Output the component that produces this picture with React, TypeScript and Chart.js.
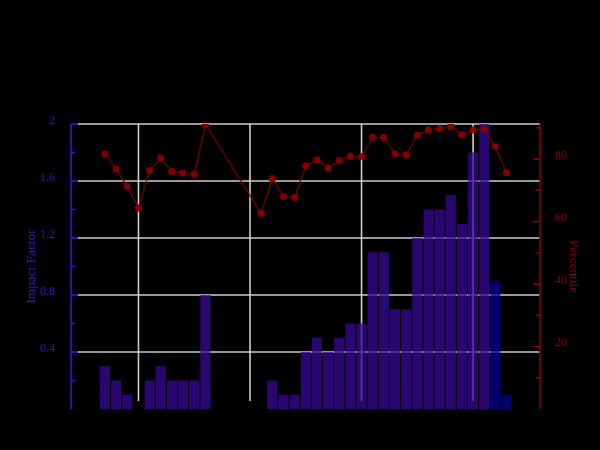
import React, { useEffect, useRef } from "react";
import { Chart, registerables } from "chart.js";

Chart.register(...registerables);

const years = [
  1987, 1988, 1989, 1990, 1991, 1992, 1993, 1994, 1995, 1996, 1997, 1998, 1999,
  2000, 2001, 2002, 2003, 2004, 2005, 2006, 2007, 2008, 2009, 2010, 2011, 2012,
  2013, 2014, 2015, 2016, 2017, 2018, 2019, 2020, 2021, 2022, 2023,
];

const impactFactor = [
  0.3, 0.2, 0.1, 0, 0.2, 0.3, 0.2, 0.2, 0.2, 0.8, null, null, null,
  null, 0, 0.2, 0.1, 0.1, 0.4, 0.5, 0.4, 0.5, 0.6, 0.6, 1.1, 1.1,
  0.7, 0.7, 1.2, 1.4, 1.4, 1.5, 1.3, 1.8, 2.0, 0.9, 0.1,
];

const percentile = [
  81.6, 76.8, 71.2, 64.3, 76.3, 80.3, 76.0, 75.5, 75.1, 91.2, null, null, null,
  null, 62.6, 73.7, 68.0, 67.7, 77.8, 79.7, 77.1, 79.5, 80.9, 80.8, 86.9, 86.9,
  81.6, 81.3, 87.6, 89.3, 89.7, 90.5, 87.7, 89.3, 89.5, 84.0, 75.6,
];

const impactTicks = [0.4, 0.8, 1.2, 1.6, 2];
const impactMinorTicks = [0.2, 0.6, 1.0, 1.4, 1.8];
const percentileTicks = [20, 40, 60, 80];
const percentileMinorTicks = [10, 30, 50, 70, 90];
const gridYears = [1990, 2000, 2010, 2020];
const provisionalFrom = 2022;

const PURPLE = "#4412c8";
const RED = "#8a0000";
const FONT = "'Liberation Serif', 'DejaVu Serif', serif";

const overlay = {
  id: "overlay",
  beforeDraw(chart: any) {
    const { ctx, width, height } = chart;
    ctx.save();
    ctx.fillStyle = "#000";
    ctx.fillRect(0, 0, width, height);
    ctx.restore();
  },
  beforeDatasetsDraw(chart: any) {
    const { ctx, chartArea: a, scales } = chart;
    const x = scales.x;
    const y = scales.y;
    ctx.save();
    ctx.strokeStyle = "rgba(215,215,215,0.95)";
    ctx.lineWidth = 1.6;
    for (const v of impactTicks) {
      const py = y.getPixelForValue(v);
      ctx.beginPath();
      ctx.moveTo(a.left + 7, py);
      ctx.lineTo(a.right, py);
      ctx.stroke();
    }
    for (const yr of gridYears) {
      const px = x.getPixelForValue(yr);
      ctx.beginPath();
      ctx.moveTo(px, a.top);
      ctx.lineTo(px, a.bottom - 8);
      ctx.stroke();
    }
    ctx.restore();
  },
  afterDatasetsDraw(chart: any) {
    const { ctx, chartArea: a, scales } = chart;
    const y = scales.y;
    const y1 = scales.y1;
    ctx.save();
    ctx.lineWidth = 1.6;
    // left axis
    ctx.strokeStyle = PURPLE;
    ctx.beginPath();
    ctx.moveTo(a.left, a.top);
    ctx.lineTo(a.left, a.bottom);
    ctx.stroke();
    for (const v of impactTicks) {
      const py = y.getPixelForValue(v);
      ctx.beginPath();
      ctx.moveTo(a.left, py);
      ctx.lineTo(a.left + 7, py);
      ctx.stroke();
    }
    for (const v of impactMinorTicks) {
      const py = y.getPixelForValue(v);
      ctx.beginPath();
      ctx.moveTo(a.left, py);
      ctx.lineTo(a.left + 4, py);
      ctx.stroke();
    }
    // right axis
    ctx.strokeStyle = RED;
    ctx.beginPath();
    ctx.moveTo(a.right, a.top);
    ctx.lineTo(a.right, a.bottom);
    ctx.stroke();
    for (const v of percentileTicks) {
      const py = y1.getPixelForValue(v);
      ctx.beginPath();
      ctx.moveTo(a.right, py);
      ctx.lineTo(a.right - 7, py);
      ctx.stroke();
    }
    for (const v of percentileMinorTicks) {
      const py = y1.getPixelForValue(v);
      ctx.beginPath();
      ctx.moveTo(a.right, py);
      ctx.lineTo(a.right - 4, py);
      ctx.stroke();
    }
    ctx.restore();
  },
};

export default function App() {
  const canvasRef = useRef<HTMLCanvasElement | null>(null);

  useEffect(() => {
    document.body.style.margin = "0";
    document.body.style.background = "#000";
    const canvas = canvasRef.current;
    if (!canvas) return;

    const barData = years
      .map((yr, i) => ({ x: yr, y: impactFactor[i] }))
      .filter((p) => p.y !== null);
    const lineData = years
      .map((yr, i) => ({ x: yr, y: percentile[i] }))
      .filter((p) => p.y !== null);

    const chart = new Chart(canvas, {
      type: "bar",
      data: {
        datasets: [
          {
            type: "line",
            label: "Percentile",
            data: lineData as any,
            yAxisID: "y1",
            xAxisID: "x",
            borderColor: "rgba(115,0,0,0.85)",
            borderWidth: 1.5,
            pointRadius: 3.6,
            pointBackgroundColor: "rgba(140,0,0,0.9)",
            pointBorderColor: "rgba(140,0,0,0.9)",
            pointBorderWidth: 0,
            tension: 0,
            order: 0,
          } as any,
          {
            type: "bar",
            label: "Impact Factor",
            data: barData as any,
            yAxisID: "y",
            xAxisID: "x",
            backgroundColor: (c: any) => {
              const raw = c.raw;
              return raw && raw.x >= provisionalFrom
                ? "rgba(0,0,150,0.75)"
                : "rgba(56,10,150,0.75)";
            },
            borderWidth: 0,
            barPercentage: 0.9,
            categoryPercentage: 1,
            order: 1,
          } as any,
        ],
      },
      options: {
        responsive: false,
        animation: false,
        devicePixelRatio: 1,
        layout: { padding: { left: 0, right: 0, top: 124, bottom: 41 } },
        plugins: {
          legend: { display: false },
          tooltip: { enabled: false },
        },
        scales: {
          x: {
            type: "linear",
            display: false,
            min: 1983.95,
            max: 2026,
            offset: false,
          },
          y: {
            type: "linear",
            position: "left",
            min: 0,
            max: 2,
            grid: { display: false },
            border: { display: false },
            ticks: {
              stepSize: 0.4,
              color: PURPLE,
              font: { family: FONT, size: 12 },
              padding: 8,
              labelOffset: -3.5,
              callback: (v: any) =>
                v > 0.01 ? String(Math.round(v * 10) / 10) : null,
            },
            title: {
              display: true,
              text: "Impact Factor",
              color: PURPLE,
              font: { family: FONT, size: 13.3 },
              padding: { top: 24, bottom: 0 },
            },
            afterFit: (s: any) => {
              s.width = 71;
              s.paddingTop = 0;
              s.paddingBottom = 0;
            },
          },
          y1: {
            type: "linear",
            position: "right",
            min: 0,
            max: 91.2,
            grid: { display: false },
            border: { display: false },
            ticks: {
              stepSize: 20,
              color: RED,
              font: { family: FONT, size: 12 },
              padding: 7,
              labelOffset: -3.5,
              callback: (v: any) =>
                v > 0 && Math.abs(v % 20) < 0.001 ? String(v) : null,
            },
            title: {
              display: true,
              text: "Percentile",
              color: RED,
              font: { family: FONT, size: 13.3 },
              padding: { top: 19, bottom: 0 },
            },
            afterFit: (s: any) => {
              s.width = 60;
              s.paddingTop = 0;
              s.paddingBottom = 0;
            },
          },
        },
      } as any,
      plugins: [overlay],
    });

    return () => {
      chart.destroy();
    };
  }, []);

  return (
    <div style={{ width: 600, height: 450, background: "#000" }}>
      <canvas ref={canvasRef} width={600} height={450} style={{ display: "block" }} />
    </div>
  );
}
